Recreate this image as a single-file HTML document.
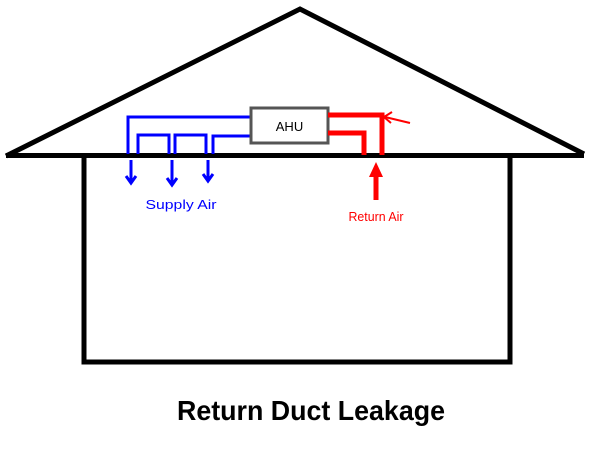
<!DOCTYPE html>
<html><head><style>html,body{margin:0;padding:0;background:#fff}</style></head>
<body>
<svg width="601" height="451" xmlns="http://www.w3.org/2000/svg">
<g stroke="#000" stroke-width="5" fill="none" stroke-linecap="butt">
<polyline points="6,156 300,9 584,154"/>
<line x1="6" y1="155.5" x2="584" y2="155.5"/>
<polyline points="84,156 84,362 510,362 510,156"/>
</g>
<g stroke="#0000ff" stroke-width="3" fill="none">
<polyline points="128,154 128,117 251,117"/>
<polyline points="138,154 138,135 169,135 169,154"/>
<polyline points="175,154 175,135 206,135 206,154"/>
<polyline points="213,154 213,136 251,136"/>
<line x1="131" y1="160" x2="131" y2="182"/>
<polyline points="126,176 131,183 136,176"/>
<line x1="172" y1="160" x2="172" y2="184"/>
<polyline points="167,178 172,185 177,178"/>
<line x1="208" y1="160" x2="208" y2="180"/>
<polyline points="203,174 208,181 213,174"/>
</g>
<rect x="251" y="108" width="77" height="35" fill="#fff" stroke="#555" stroke-width="3"/>
<text x="289.5" y="131" font-family="Liberation Sans, sans-serif" font-size="13" text-anchor="middle">AHU</text>
<g stroke="#ff0000" fill="none">
<polyline points="328,115 382,115 382,155" stroke-width="5"/>
<polyline points="328,133 364,133 364,155" stroke-width="5"/>
<line x1="410" y1="123" x2="385" y2="117" stroke-width="2"/>
<polyline points="392,112 384,117 391,123" stroke-width="2"/>
<line x1="376" y1="200" x2="376" y2="172" stroke-width="5"/>
</g>
<polygon points="376,162 369,177 383,177" fill="#ff0000"/>
<text x="181" y="209" font-family="Liberation Sans, sans-serif" font-size="13" fill="#0000ff" text-anchor="middle" textLength="71" lengthAdjust="spacingAndGlyphs">Supply Air</text>
<text x="376" y="221" font-family="Liberation Sans, sans-serif" font-size="13" fill="#ff0000" text-anchor="middle" textLength="55" lengthAdjust="spacingAndGlyphs">Return Air</text>
<text x="311" y="420" font-family="Liberation Sans Narrow, Liberation Sans, sans-serif" font-weight="bold" font-size="28" text-anchor="middle" textLength="268" lengthAdjust="spacingAndGlyphs">Return Duct Leakage</text>
</svg>
</body></html>
